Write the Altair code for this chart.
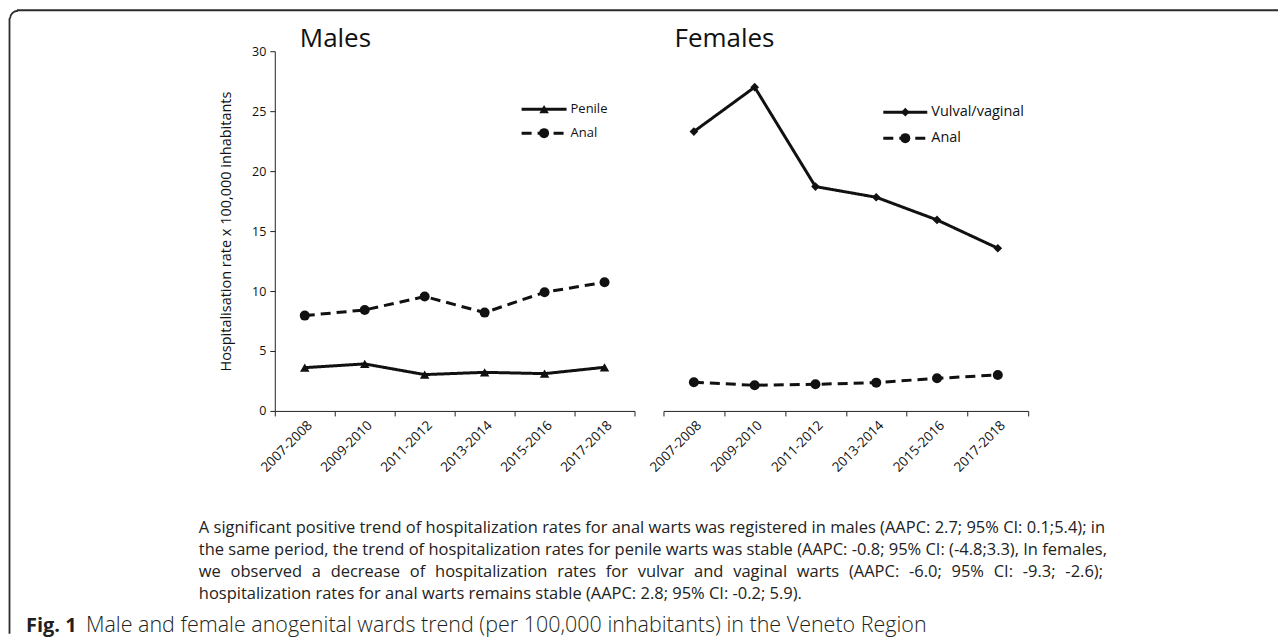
import altair as alt
import pandas as pd

periods = ["2007-2008", "2009-2010", "2011-2012", "2013-2014", "2015-2016", "2017-2018"]
males_penile = [3.61, 3.92, 3.03, 3.22, 3.11, 3.64]
males_anal = [7.95, 8.42, 9.54, 8.20, 9.90, 10.73]
females_vulval = [23.3, 27.0, 18.71, 17.82, 15.93, 13.57]
females_anal = [2.39, 2.14, 2.22, 2.36, 2.72, 3.00]

y_ticks = [0, 5, 10, 15, 20, 25, 30]
y_title = "Hospitalisation rate x 100,000 inhabitants"

caption_lines = [
    "A significant positive trend of hospitalization rates for anal warts was registered in males (AAPC: 2.7; 95% CI: 0.1;5.4); in",
    "the same period, the trend of hospitalization rates for penile warts was stable (AAPC: -0.8; 95% CI: (-4.8;3.3), In females,",
    "we observed a decrease of hospitalization rates for vulvar and vaginal warts (AAPC: -6.0; 95% CI: -9.3; -2.6);",
    "hospitalization rates for anal warts remains stable (AAPC: 2.8; 95% CI: -0.2; 5.9).",
]
# lines set justified in the original (word gaps widened on the short one)
justify_extra = [False, False, True, False]
fig_label = "Fig. 1"
fig_caption = "Male and female anogenital wards trend (per 100,000 inhabitants) in the Veneto Region"

FONT = "Open Sans"
INK = "#111111"
W_M, W_F, H = 360, 365, 360


def frame(series_list):
    rows = []
    for name, vals in series_list:
        for p, v in zip(periods, vals):
            rows.append({"period": p, "value": v, "series": name})
    return pd.DataFrame(rows)


def x_enc():
    return alt.X(
        "period:N",
        sort=periods,
        bandPosition=0.5,
        scale=alt.Scale(type="band", paddingInner=0, paddingOuter=0),
        axis=alt.Axis(
            title=None, labelAngle=-45, tickBand="extent", tickSize=5,
            labelFont=FONT, labelFontSize=13.5, labelColor=INK,
            domainColor="#222", tickColor="#222", labelPadding=2,
        ),
    )


def y_enc(with_axis):
    axis = alt.Axis(
        values=y_ticks, grid=False, title=y_title, titleFont=FONT,
        titleFontSize=14.5, titleFontWeight="normal", titleColor=INK,
        labelFont=FONT, labelFontSize=12.5, labelColor=INK, tickSize=5,
        domainColor="#222", tickColor="#222", titlePadding=18, labelPadding=4,
    ) if with_axis else None
    return alt.Y("value:Q", scale=alt.Scale(domain=[0, 30], nice=False), axis=axis)


def series_layers(df, name, dash, shape, size, with_axis):
    base = alt.Chart(df[df.series == name])
    line = base.mark_line(color=INK, strokeWidth=3, strokeDash=dash).encode(
        x=x_enc(), y=y_enc(with_axis))
    pts = base.mark_point(color=INK, filled=True, opacity=1, shape=shape, size=size).encode(
        x=x_enc(), y=y_enc(with_axis))
    return [line, pts]


def legend_layers(entries, x0, x1, label_x, ys, fsize):
    layers = []
    for (name, dash, shape, size), yy in zip(entries, ys):
        layers.append(alt.Chart().mark_rule(color=INK, strokeWidth=3, strokeDash=dash).encode(
            x=alt.value(x0), x2=alt.value(x1), y=alt.value(yy)))
        layers.append(alt.Chart().mark_point(color=INK, filled=True, opacity=1, shape=shape, size=size).encode(
            x=alt.value((x0 + x1) / 2), y=alt.value(yy)))
        layers.append(alt.Chart().mark_text(text=name, font=FONT, fontSize=fsize, color=INK,
                                            align="left", baseline="middle").encode(
            x=alt.value(label_x), y=alt.value(yy)))
    return layers


def title_layer(text, x):
    return alt.Chart().mark_text(text=text, font=FONT, fontSize=26, color=INK,
                                 align="left", baseline="alphabetic").encode(
        x=alt.value(x), y=alt.value(-4))


# ---- Males panel (origin = page 274, 51)
male_df = frame([("Penile", males_penile), ("Anal", males_anal)])
male_layers = []
male_layers += series_layers(male_df, "Anal", [10, 6], "circle", 100, True)
male_layers += series_layers(male_df, "Penile", [1, 0], "triangle-up", 90, True)
male_layers += legend_layers(
    [("Penile", [1, 0], "triangle-up", 90), ("Anal", [10, 6], "circle", 100)],
    247, 292, 296, [58, 82], 13)
male_layers.append(title_layer("Males", 25))

# Figure frame and caption (drawn relative to the male panel origin)
FR = "#2b2b2b"
male_layers.append(alt.Chart().mark_rule(color=FR, strokeWidth=1.8).encode(
    x=alt.value(-258), x2=alt.value(1004), y=alt.value(-41)))
male_layers.append(alt.Chart().mark_rule(color=FR, strokeWidth=1.8).encode(
    x=alt.value(-265.5), y=alt.value(-33), y2=alt.value(583)))
male_layers.append(alt.Chart().mark_arc(color=FR, theta=4.7124, theta2=6.2832,
                                        radius=8.9, radius2=7.1).encode(
    x=alt.value(-257), y=alt.value(-32.5)))
for i, (line, wide) in enumerate(zip(caption_lines, justify_extra)):
    shown = line.replace(" ", " \u2004") if wide else line
    male_layers.append(alt.Chart().mark_text(text=shown, font=FONT, fontSize=16.5, color="#222",
                                             align="left", baseline="middle").encode(
        x=alt.value(-76), y=alt.value(477 + i * 22)))
male_layers.append(alt.Chart().mark_text(text=fig_label, font=FONT, fontSize=20, fontWeight="bold",
                                         color="#231f20", align="left", baseline="middle").encode(
    x=alt.value(-249), y=alt.value(575)))
male_layers.append(alt.Chart().mark_text(text=fig_caption, font=FONT, fontSize=21.5, fontWeight=300,
                                         color="#231f20", align="left", baseline="middle").encode(
    x=alt.value(-189), y=alt.value(575)))

male = alt.layer(*male_layers).properties(width=W_M, height=H)

# ---- Females panel
fem_df = frame([("Vulval/vaginal", females_vulval), ("Anal", females_anal)])
fem_layers = []
fem_layers += series_layers(fem_df, "Anal", [10, 6], "circle", 100, False)
fem_layers += series_layers(fem_df, "Vulval/vaginal", [1, 0], "diamond", 75, False)
fem_layers += legend_layers(
    [("Vulval/vaginal", [1, 0], "diamond", 75), ("Anal", [10, 6], "circle", 100)],
    220, 264, 268, [61, 87], 14.5)
fem_layers.append(title_layer("Females", 11))
female = alt.layer(*fem_layers).properties(width=W_F, height=H)

chart = alt.hconcat(male, female, spacing=29, bounds="flush").properties(
    padding={"left": 0, "top": 1, "right": 0, "bottom": 0},
    background="white",
).configure_view(stroke="transparent", strokeWidth=0)

chart.save("out.html", embed_options={"renderer": "svg", "actions": False})
